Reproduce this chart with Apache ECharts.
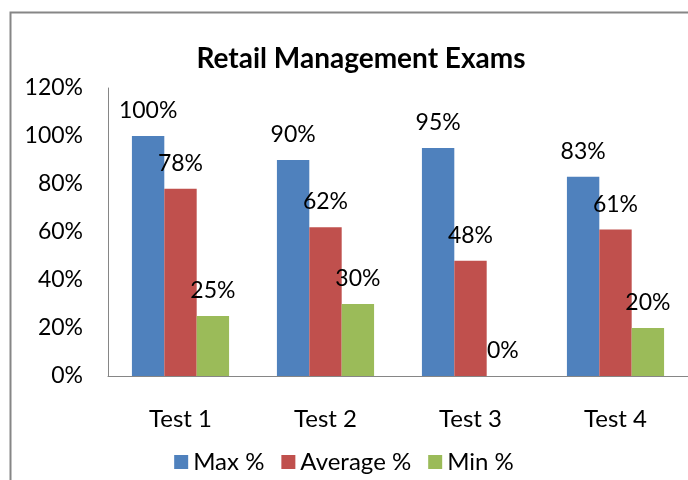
<!DOCTYPE html>
<html>
<head>
    <meta charset="utf-8">
    <title>ECharts</title>
    <script src="https://cdn.jsdelivr.net/npm/echarts@6/dist/echarts.min.js"></script>
    <style>
        html, body { margin: 0; padding: 0; background: #fff; }
    </style>
</head>
<body>
	<div id="main" style="width: 688px;height:480px;"></div>
<script type="text/javascript">
    var tests = ['Test 1', 'Test 2', 'Test 3', 'Test 4'];
    var maxPct = [100, 90, 95, 83];
    var avgPct = [78, 62, 48, 61];
    var minPct = [25, 30, 0, 20];
    var yTicks = [0, 20, 40, 60, 80, 100, 120];

    var font = 'Lato';
    var myChart = echarts.init(document.getElementById('main'));

    function barSeries(name, data, color) {
        return {
            name: name,
            type: 'bar',
            data: data,
            barGap: '0%',
            barCategoryGap: '33%',
            itemStyle: { color: color },
            label: {
                show: true,
                position: 'top',
                distance: 14,
                formatter: '{c}%',
                color: '#000',
                fontFamily: font,
                fontSize: 23
            }
        };
    }

    var option = {
        animation: false,
        title: {
            text: 'Retail Management Exams',
            left: 356,
            textAlign: 'center',
            top: 40,
            textStyle: { fontFamily: font, fontWeight: 'bold', fontSize: 28, color: '#000' }
        },
        legend: {
            bottom: 1,
            left: 'center',
            itemWidth: 14,
            itemHeight: 14,
            itemGap: 17,
            icon: 'rect',
            textStyle: { fontFamily: font, fontSize: 24, color: '#000' },
            data: ['Max %', 'Average %', 'Min %']
        },
        graphic: [{
            type: 'rect',
            shape: { x: 10.5, y: 12.5, width: 800, height: 600 },
            style: { fill: 'none', stroke: '#868686', lineWidth: 2 },
            silent: true
        }],
        grid: { left: 108, top: 88, width: 596, height: 288 },
        xAxis: {
            type: 'category',
            data: tests,
            axisLine: { lineStyle: { color: '#868686' } },
            axisTick: { show: false },
            axisLabel: { margin: 31, color: '#000', fontFamily: font, fontSize: 24 }
        },
        yAxis: {
            type: 'value',
            min: yTicks[0],
            max: yTicks[yTicks.length - 1],
            interval: 20,
            axisLine: { show: true, lineStyle: { color: '#868686' } },
            axisTick: { show: false },
            splitLine: { show: false },
            axisLabel: { margin: 25, color: '#000', fontFamily: font, fontSize: 23, formatter: '{value}%' }
        },
        series: [
            barSeries('Max %', maxPct, '#4F81BD'),
            barSeries('Average %', avgPct, '#C0504D'),
            barSeries('Min %', minPct, '#9BBB59')
        ]
    };
    myChart.setOption(option);
</script>
</body>
</html>
